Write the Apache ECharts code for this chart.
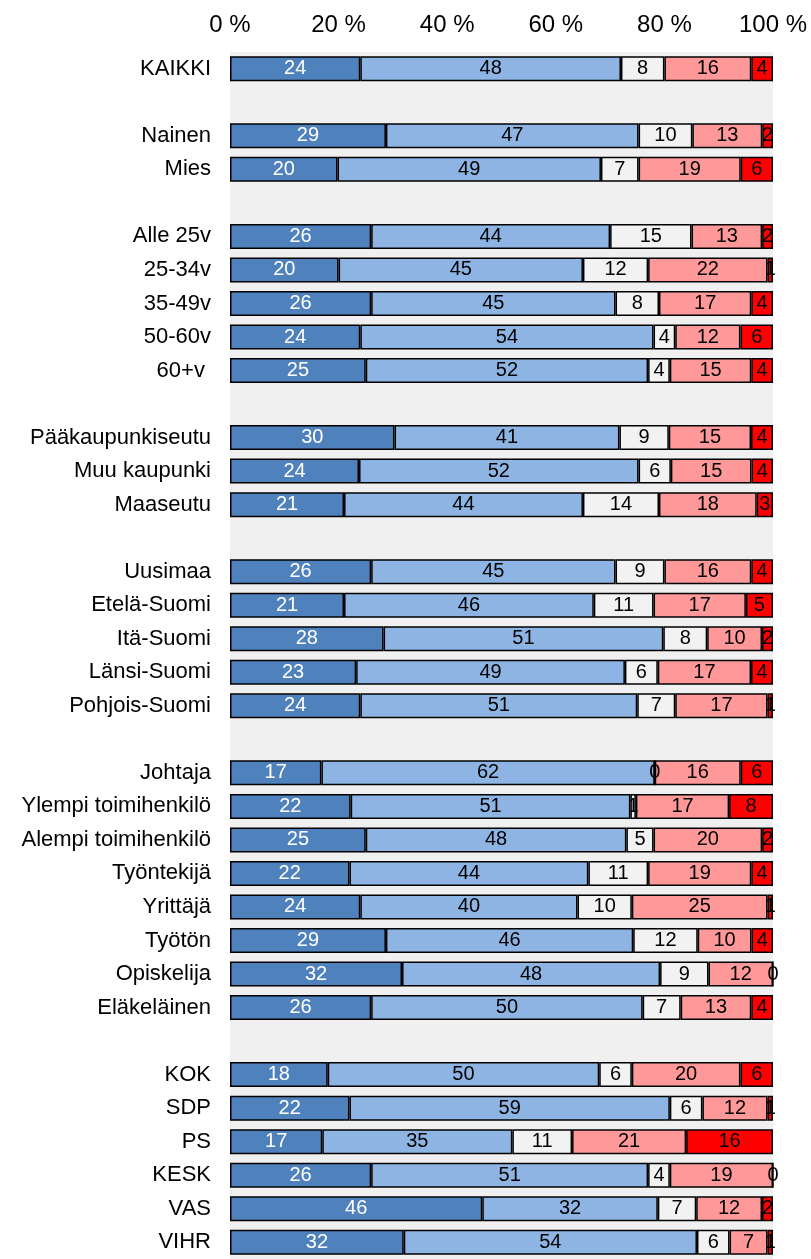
<!DOCTYPE html>
<html>
<head>
<meta charset="utf-8">
<script src="https://cdn.jsdelivr.net/npm/echarts@6/dist/echarts.min.js"></script>
<style>
html,body{margin:0;padding:0;background:#fff;}
#chart{width:811px;height:1259px;}
</style>
</head>
<body>
<div id="chart"></div>
<script>
const categories = ['KAIKKI','', 'Nainen','Mies','', 'Alle 25v','25-34v','35-49v','50-60v','60+v ','', 'Pääkaupunkiseutu','Muu kaupunki','Maaseutu','', 'Uusimaa','Etelä-Suomi','Itä-Suomi','Länsi-Suomi','Pohjois-Suomi','', 'Johtaja','Ylempi toimihenkilö','Alempi toimihenkilö','Työntekijä','Yrittäjä','Työtön','Opiskelija','Eläkeläinen','', 'KOK','SDP','PS','KESK','VAS','VIHR'];
const s1 = [24,null,29,20,null,26,20,26,24,25,null,30,24,21,null,26,21,28,23,24,null,17,22,25,22,24,29,32,26,null,18,22,17,26,46,32];
const s2 = [48,null,47,49,null,44,45,45,54,52,null,41,52,44,null,45,46,51,49,51,null,62,51,48,44,40,46,48,50,null,50,59,35,51,32,54];
const s3 = [8,null,10,7,null,15,12,8,4,4,null,9,6,14,null,9,11,8,6,7,null,0,1,5,11,10,12,9,7,null,6,6,11,4,7,6];
const s4 = [16,null,13,19,null,13,22,17,12,15,null,15,15,18,null,16,17,10,17,17,null,16,17,20,19,25,10,12,13,null,20,12,21,19,12,7];
const s5 = [4,null,2,6,null,2,1,4,6,4,null,4,4,3,null,4,5,2,4,1,null,6,8,2,4,1,4,0,4,null,6,1,16,0,2,1];
const xTicks = [0,20,40,60,80,100];

const seriesRaw = [s1,s2,s3,s4,s5];
const colors = ['#4f81bd','#8db4e2','#f2f2f2','#ff9999','#ff0000'];
const labelColors = ['#ffffff','#000000','#000000','#000000','#000000'];
const totals = categories.map((c,i)=>{
  let t=0; seriesRaw.forEach(s=>{ if(s[i]!=null) t+=s[i]; }); return t;
});
const FONT = '"Liberation Sans", Arial, sans-serif';

const chart = echarts.init(document.getElementById('chart'), null, {renderer:'canvas'});
chart.setOption({
  animation:false,
  grid:{left:230, width:543, top:52, height:1214, show:true, backgroundColor:'#f0f0f0', borderWidth:0, containLabel:false},
  xAxis:{type:'value', position:'top', min:xTicks[0], max:xTicks[xTicks.length-1], interval:xTicks[1]-xTicks[0],
    axisLine:{show:false}, axisTick:{show:false}, splitLine:{show:false},
    axisLabel:{formatter:'{value} %', fontSize:24, color:'#000', fontFamily:FONT, margin:15}},
  yAxis:{type:'category', inverse:true, data:categories,
    axisLine:{show:false}, axisTick:{show:false},
    axisLabel:{fontSize:22, color:'#000', fontFamily:FONT, margin:19, interval:0, padding:[3,0,0,0]}},
  series: seriesRaw.map((s,k)=>({
    type:'bar', stack:'all', barWidth:25,
    data: s.map((v,i)=> v==null ? null : {value: v/totals[i]*100, raw:v}),
    itemStyle:{color:colors[k], borderColor:'#000', borderWidth:1.5},
    label:{show:true, position:'inside', fontSize:20, fontFamily:FONT, color:labelColors[k], offset:[0,1],
      formatter: p => p.data && p.data.raw!=null ? String(p.data.raw) : ''},
    labelLayout:{hideOverlap:false}
  }))
});
</script>
</body>
</html>
